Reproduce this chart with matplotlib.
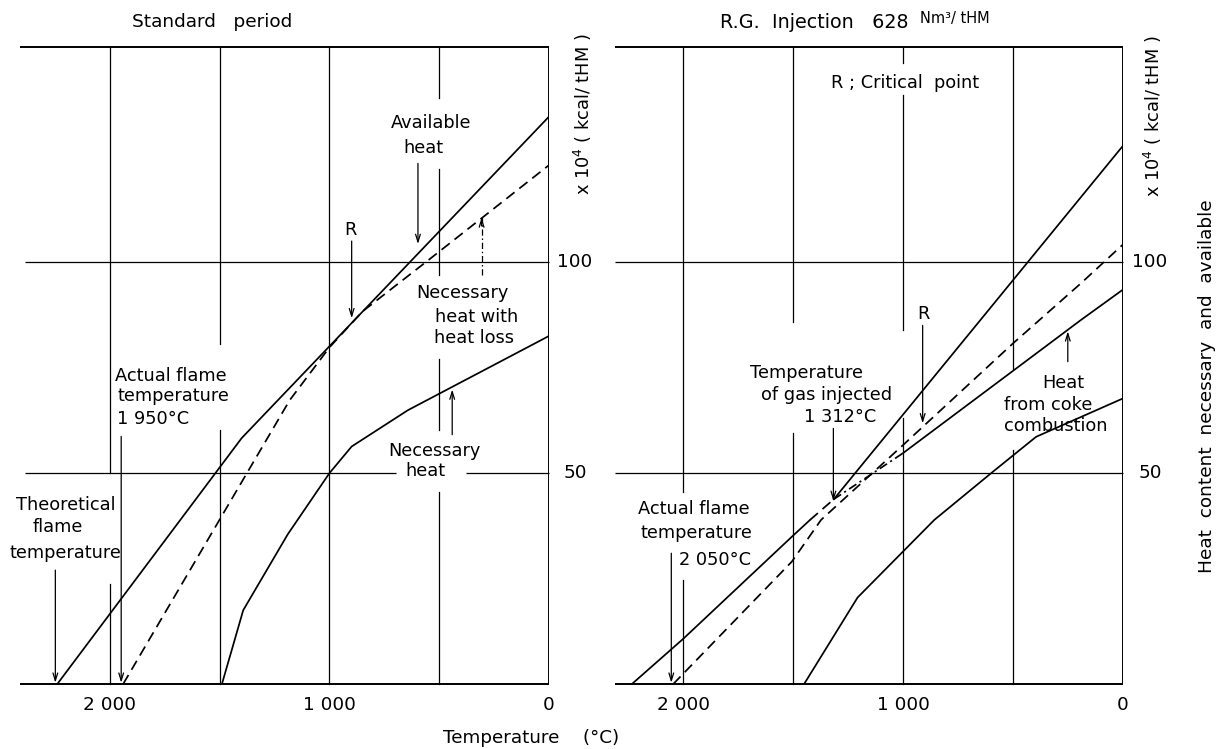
import matplotlib
matplotlib.use('Agg')
import matplotlib.pyplot as plt
from matplotlib.transforms import blended_transform_factory

plt.rcParams['font.family'] = ['DejaVu Sans']

# ---------------- data (temperature degC, heat x10^4 kcal/tHM) ----------------
# Standard period
std_avail_T = [2240, 1400, 0]
std_avail_V = [0, 58.3, 134.5]
std_loss_T = [1940, 1181, 1000, 850, 549, 0]
std_loss_V = [0, 67.3, 79.8, 88.3, 100.5, 123.0]
std_need_T = [1490, 1393, 1190, 1000, 899, 643, 0]
std_need_V = [0, 17.5, 35.5, 50.0, 56.3, 64.9, 82.5]

# R.G. injection 628 Nm3/tHM
rg_avail_low_T = [2233, 2000, 1506, 1423]
rg_avail_low_V = [0, 10.7, 34.9, 38.9]
rg_avail_join_T = [1423, 1315]
rg_avail_join_V = [38.9, 43.8]
rg_avail_T = [1315, 0]
rg_avail_V = [43.8, 127.6]
rg_loss_T = [2045, 1506, 1373, 1001, 501, 191, 0]
rg_loss_V = [0, 29.0, 38.9, 56.6, 80.7, 95.0, 104.2]
rg_coke_T = [1315, 1001, 501, 191, 0]
rg_coke_V = [43.8, 54.7, 74.2, 86.3, 93.5]
rg_need_T = [1450, 1207, 858, 592, 395, 0]
rg_need_V = [0, 20.5, 38.9, 50.3, 58.6, 67.7]

x_ticks = [2000, 1000, 0]
x_ticklabels = ['2 000', '1 000', '0']
y_ticks = [100, 50]
y_ticklabels = ['100', '50']

YTOP = 151
FS = 12.8
LW = 1.25
GLW = 0.9
DASH = (0, (6, 3.5))
DASHDOT = (0, (5, 2.2, 1.2, 2.2))

W, H = 1217, 749
fig = plt.figure(figsize=(W / 100, H / 100), dpi=100)
fig.patch.set_facecolor('white')

axL = fig.add_axes([20 / W, (H - 684) / H, 529 / W, 637 / H])
axR = fig.add_axes([615 / W, (H - 684) / H, 508 / W, 637 / H])
axL.set_xlim(2410, 0)
axR.set_xlim(2310, 0)
for ax in (axL, axR):
    ax.set_ylim(0, YTOP)
    ax.axis('off')


def vseg(ax, T, segs):
    for a, b in segs:
        ax.plot([T, T], [a, b], color='k', lw=GLW, zorder=1, clip_on=False)


def hseg(ax, V, segs, lw=GLW):
    for a, b in segs:
        ax.plot([a, b], [V, V], color='k', lw=lw, zorder=1, clip_on=False,
                solid_capstyle='butt')


def arrow(ax, T, v0, v1, ls='-'):
    if ls == '-':
        ax.annotate('', xy=(T, v1), xytext=(T, v0),
                    arrowprops=dict(arrowstyle='->,head_length=0.55,head_width=0.17',
                                    lw=0.9, color='k', shrinkA=0, shrinkB=0),
                    annotation_clip=False, zorder=4)
    else:
        ax.plot([T, T], [v0, v1], color='k', lw=0.9, ls=ls, zorder=4)
        d = 2.0 if v1 > v0 else -2.0
        ax.annotate('', xy=(T, v1), xytext=(T, v1 - d),
                    arrowprops=dict(arrowstyle='->,head_length=0.55,head_width=0.17',
                                    lw=0.9, color='k', shrinkA=0, shrinkB=0),
                    annotation_clip=False, zorder=4)


def txt(ax, T, V, s, ha='center', size=FS):
    ax.text(T, V, s, ha=ha, va='center', fontsize=size, color='k', zorder=5,
            clip_on=False)


# ---------------- frames and grids ----------------
# left panel
L0 = 2410
hseg(axL, YTOP, [(L0, 0)], lw=1.4)
hseg(axL, 0, [(L0, 0)], lw=1.4)
hseg(axL, 100, [(2385, 0)])
hseg(axL, 50, [(2385, 696), (379, 0)])
axL.plot([0, 0], [0, YTOP], color='k', lw=1.4, zorder=1)
vseg(axL, 2000, [(0, 23.8), (50, YTOP)])
vseg(axL, 1500, [(0, 60.3), (80.6, YTOP)])
vseg(axL, 1000, [(0, YTOP)])
vseg(axL, 500, [(0, 45.6), (60.3, 77.0), (96.9, 122.0), (139.0, YTOP)])

# right panel
R0 = 2310
hseg(axR, YTOP, [(R0, 0)], lw=1.4)
hseg(axR, 0, [(R0, 0)], lw=1.4)
hseg(axR, 100, [(R0, 0)])
hseg(axR, 50, [(R0, 0)])
axR.plot([0, 0], [0, YTOP], color='k', lw=1.4, zorder=1)
vseg(axR, 2000, [(0, 24.6), (45.6, YTOP)])
vseg(axR, 1500, [(0, 59.4), (85.7, YTOP)])
vseg(axR, 1000, [(0, 63.0), (83.9, 139.7), (147.2, YTOP)])
vseg(axR, 500, [(0, 55.5), (74.6, YTOP)])

# ---------------- curves ----------------
kw = dict(color='k', lw=LW, zorder=3, solid_joinstyle='miter')
axL.plot(std_avail_T, std_avail_V, **kw)
axL.plot(std_loss_T, std_loss_V, ls=DASH, **kw)
axL.plot(std_need_T, std_need_V, **kw)

axR.plot(rg_avail_low_T, rg_avail_low_V, **kw)
axR.plot(rg_avail_join_T, rg_avail_join_V, ls=DASH, **kw)
axR.plot(rg_avail_T, rg_avail_V, **kw)
axR.plot(rg_loss_T, rg_loss_V, ls=DASH, **kw)
axR.plot(rg_coke_T[:2], rg_coke_V[:2], ls=DASHDOT, **kw)
axR.plot(rg_coke_T[1:], rg_coke_V[1:], **kw)
axR.plot(rg_need_T, rg_need_V, **kw)

# ---------------- tick labels ----------------
for ax, xr in ((axL, (575 - 20) / 529), (axR, (1150 - 615) / 508)):
    for t, s in zip(x_ticks, x_ticklabels):
        ax.text(t, -5.0, s, ha='center', va='center', fontsize=13.3,
                clip_on=False)
    tr = blended_transform_factory(ax.transAxes, ax.transData)
    for v, s in zip(y_ticks, y_ticklabels):
        ax.text(xr, v, s, ha='center', va='center', fontsize=13.3, transform=tr,
                clip_on=False)

# unit labels
fig.text(583 / W, 1 - 114 / H, 'x 10$^4$ ( kcal/ tHM )', rotation=90,
         ha='center', va='center', fontsize=12.8)
fig.text(1153 / W, 1 - 116 / H, 'x 10$^4$ ( kcal/ tHM )', rotation=90,
         ha='center', va='center', fontsize=12.8)
fig.text(1207 / W, 1 - 386 / H, 'Heat  content  necessary  and  available',
         rotation=90, ha='center', va='center', fontsize=13.3)
fig.text(531 / W, 1 - 738 / H, 'Temperature    (°C)', ha='center',
         va='center', fontsize=13.2)

# titles
fig.text(212 / W, 1 - 22 / H, 'Standard   period', ha='center', va='center',
         fontsize=13.3)
fig.text(814 / W, 1 - 23 / H, 'R.G.  Injection   628', ha='center',
         va='center', fontsize=13.8)
fig.text(920 / W, 1 - 19 / H, 'Nm³/ tHM', ha='left', va='center',
         fontsize=10.5)

# ---------------- annotations: left ----------------
txt(axL, 535, 132.9, 'Available')
txt(axL, 573, 127.0, 'heat')
arrow(axL, 597, 123.4, 104.3)

txt(axL, 906, 107.6, 'R')
arrow(axL, 899, 105.0, 86.7)

txt(axL, 396, 92.6, 'Necessary')
txt(axL, 331, 87.0, 'heat with')
txt(axL, 343, 82.0, 'heat loss')
arrow(axL, 307, 96.9, 110.6, ls=DASHDOT)

txt(axL, 1976, 73.0, 'Actual flame', ha='left')
txt(axL, 1968, 68.3, 'temperature', ha='left')
txt(axL, 1968, 62.7, '1 950°C', ha='left')
arrow(axL, 1949, 58.7, 0.3)

txt(axL, 2201, 42.5, 'Theoretical')
txt(axL, 2240, 37.3, 'flame')
txt(axL, 2205, 31.1, 'temperature')
arrow(axL, 2249, 27.0, 0.3)

txt(axL, 520, 55.2, 'Necessary')
txt(axL, 561, 50.4, 'heat')
arrow(axL, 441, 59.1, 69.8)

# ---------------- annotations: right ----------------
txt(axR, 991, 142.5, 'R ; Critical  point')

txt(axR, 908, 87.8, 'R')
arrow(axR, 911, 85.0, 61.8)

txt(axR, 1440, 73.8, 'Temperature')
txt(axR, 1350, 68.5, 'of gas injected')
txt(axR, 1286, 63.2, '1 312°C')
arrow(axR, 1317, 60.6, 43.4)

txt(axR, 1951, 41.6, 'Actual flame')
txt(axR, 1939, 35.7, 'temperature')
txt(axR, 1855, 29.5, '2 050°C')
arrow(axR, 2054, 31.0, 0.3)

txt(axR, 272, 71.3, 'Heat')
txt(axR, 341, 66.1, 'from coke')
txt(axR, 308, 61.2, 'combustion')
arrow(axR, 251, 76.4, 83.6)

fig.savefig('out.png', dpi=100, facecolor='white')
